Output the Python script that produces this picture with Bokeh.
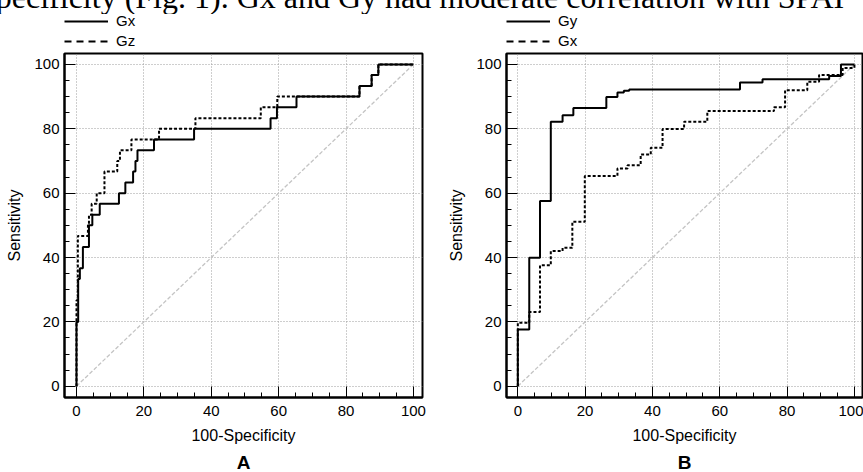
from bokeh.plotting import figure
from bokeh.models import (Range1d, SingleIntervalTicker, FixedTicker, Legend, LegendItem,
                          LinearAxis, Div)
from bokeh.layouts import row, column
from bokeh.embed import file_html
from bokeh.resources import INLINE

# ---------------- data ----------------
caption = "Specificity (Fig. 1). Gx and Gy had moderate correlation with SPAI"
x_title = "100-Specificity"
y_title = "Sensitivity"
panel_letters = ["A", "B"]
grid_ticks = [0, 20, 40, 60, 80, 100]
diag = [0, 100]
no_data = [float("nan")]

# Panel A
a_solid_name = "Gx"
a_gx_fpr = [0, 0, 0.5, 1.0, 1.9, 3.7, 4.7, 6.9, 12.6, 14.5, 16.8, 17.5, 18.1, 23.0, 34.9,
            57.6, 59.5, 65.3, 84.0, 87.6, 89.6, 100]
a_gx_tpr = [0, 20, 33.3, 36.7, 43.3, 50, 53.3, 56.7, 60, 63.3, 66.7, 70, 73.3, 76.7, 80,
            83.3, 86.7, 90, 93.3, 96.7, 100, 100]
a_dot_name = "Gz"
a_gz_fpr = [0, 0, 0.4, 3.4, 3.7, 4.5, 6.0, 8.3, 12.1, 12.9, 16.3, 24.5, 35.3, 54.7, 59.6,
            84.0, 87.6, 89.6, 100]
a_gz_tpr = [0, 26.7, 46.7, 50, 53.3, 56.7, 60, 66.7, 70, 73.3, 76.7, 80, 83.3, 86.7, 90,
            93.3, 96.7, 100, 100]

# Panel B
b_solid_name = "Gy"
b_gy_fpr = [0, 0, 3.4, 6.6, 9.8, 13.3, 16.5, 26.3, 29.6, 31.5, 33.1, 66.0, 72.7, 92.5, 96.0, 100]
b_gy_tpr = [0, 17.6, 39.9, 57.6, 82.2, 84.2, 86.5, 89.9, 91.3, 91.8, 92.2, 94.4, 95.4, 96.4, 100, 100]
b_dot_name = "Gx"
b_gx_fpr = [0, 0, 3.4, 6.6, 9.8, 13.3, 16.2, 19.9, 29.6, 32.6, 36.5, 39.5, 43.0, 49.4, 56.3,
            76.1, 79.4, 86.0, 89.5, 96.5, 100]
b_gx_tpr = [0, 19.7, 23.1, 37.6, 42.0, 43.0, 51.1, 65.3, 67.7, 68.7, 72.0, 74.1, 79.9, 82.2, 85.5,
            86.7, 92.0, 94.6, 96.7, 98.9, 100]

FONT = "Liberation Sans"


def legend_fig(sname, dname, fw, border_left, border_right):
    lf = figure(frame_width=fw, frame_height=37,
                min_border_left=border_left, min_border_right=border_right,
                min_border_top=0, min_border_bottom=0,
                x_range=Range1d(0, 1), y_range=Range1d(0, 1),
                x_axis_type=None, y_axis_type=None,
                output_backend="svg", toolbar_location=None,
                background_fill_color="white", border_fill_color="white")
    lf.outline_line_color = None
    lf.xgrid.visible = False
    lf.ygrid.visible = False
    r_solid = lf.line(no_data, no_data, line_color="black", line_width=2)
    r_dash = lf.line(no_data, no_data, line_color="black", line_width=2, line_dash="7 5")
    legend = Legend(items=[LegendItem(label=sname, renderers=[r_solid]),
                           LegendItem(label=dname, renderers=[r_dash])],
                    location=(0, 1.3), orientation="vertical",
                    glyph_width=44, glyph_height=18, label_height=18,
                    label_standoff=8, spacing=2, padding=0, margin=0,
                    border_line_color=None, background_fill_alpha=0,
                    label_text_font=FONT, label_text_font_size="15px",
                    label_text_color="black")
    lf.add_layout(legend)
    return lf


def panel(sx, sy, dx, dy, letter, xr, border_left, border_right, fw):
    p = figure(frame_width=fw, frame_height=344,
               min_border_left=border_left, min_border_right=border_right,
               min_border_top=2, min_border_bottom=75,
               x_range=Range1d(*xr), y_range=Range1d(-3.5, 103.4),
               output_backend="svg", toolbar_location=None,
               background_fill_color="white", border_fill_color="white")
    p.outline_line_color = "black"
    p.outline_line_width = 2

    for ax in (p.xaxis[0], p.yaxis[0]):
        ax.ticker = SingleIntervalTicker(interval=20, num_minor_ticks=4)
        ax.axis_line_width = 2
        ax.axis_line_color = "black"
        ax.major_tick_in = 11
        ax.major_tick_out = 0
        ax.minor_tick_in = 5
        ax.minor_tick_out = 0
        ax.major_tick_line_color = "black"
        ax.minor_tick_line_color = "black"
        ax.major_label_text_font = FONT
        ax.major_label_text_font_size = "15px"
        ax.major_label_text_color = "black"
        ax.axis_label_text_font = FONT
        ax.axis_label_text_font_size = "16px"
        ax.axis_label_text_font_style = "normal"
        ax.axis_label_text_color = "black"
    p.xaxis.axis_label = x_title
    p.yaxis.axis_label = y_title
    p.xaxis.major_label_standoff = 8
    p.yaxis.major_label_standoff = 5
    p.xaxis.axis_label_standoff = 8
    p.yaxis.axis_label_standoff = 8

    for g in (p.xgrid[0], p.ygrid[0]):
        g.ticker = grid_ticks
        g.grid_line_color = "#9c9c9c"
        g.grid_line_dash = "1 2"
        g.grid_line_width = 1

    p.line(diag, diag, line_color="#c4c4c4", line_width=1.3, line_dash="4 2")

    p.step(dx, dy, mode="after", line_color="black", line_width=2, line_dash="3 2")
    p.step(sx, sy, mode="after", line_color="black", line_width=2)

    # panel letter as the label of a bare second axis below
    lax = LinearAxis(ticker=FixedTicker(ticks=[]), axis_label=letter,
                     axis_line_color=None, major_tick_line_color=None,
                     minor_tick_line_color=None, major_label_standoff=0,
                     major_tick_in=0, major_tick_out=0,
                     axis_label_standoff=5, axis_label_text_font=FONT,
                     axis_label_text_font_size="19px", axis_label_text_font_style="bold",
                     axis_label_text_color="black")
    p.add_layout(lax, "below")
    return p


lf1 = legend_fig(a_solid_name, a_dot_name, 358, 64, 18)
p1 = panel(a_gx_fpr, a_gx_tpr, a_gz_fpr, a_gz_tpr, panel_letters[0],
           (-3.56, 102.7), 64, 18, 358)
lf2 = legend_fig(b_solid_name, b_dot_name, 356, 66, 1)
p2 = panel(b_gy_fpr, b_gy_tpr, b_gx_fpr, b_gx_tpr, panel_letters[1],
           (-3.36, 102.4), 66, 1, 356)

cap = Div(text=('<div style="font-family:\'Liberation Serif\';font-size:32px;'
                'line-height:32px;white-space:nowrap;margin-left:-22px;margin-top:-21px;'
                'position:relative;top:-4px;color:black">' + caption + '</div>'),
          width=863, height=14, margin=0, styles={"overflow": "hidden"})

layout = column(cap,
                row(column(lf1, p1, spacing=0), column(lf2, p2, spacing=0), spacing=0),
                spacing=0)
open("out.html", "w").write(file_html(layout, INLINE))
